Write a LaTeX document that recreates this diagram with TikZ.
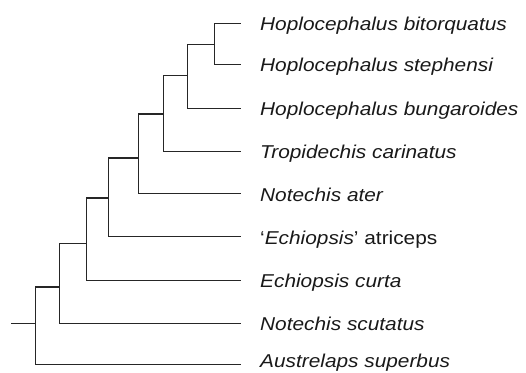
\documentclass[tikz,border=0pt]{standalone}
\usepackage{fontspec}
\setmainfont{Liberation Sans}[FakeStretch=1.12]
\begin{document}
\begin{tikzpicture}[x=1pt,y=-1pt,
  branch/.style={line width=1.25pt,draw=black!85,line cap=rect},
  taxon/.style={anchor=base west,inner sep=0pt,font=\fontsize{18.6}{20}\selectfont\itshape,text=black!90}]
\useasboundingbox (0,0) rectangle (526,372);
% leaf tips
\coordinate (bit) at (240,23.3);
\coordinate (ste) at (240,64.3);
\coordinate (bun) at (240,108.2);
\coordinate (tro) at (240,151.2);
\coordinate (ate) at (240,193.6);
\coordinate (atr) at (240,236.6);
\coordinate (cur) at (240,280.4);
\coordinate (scu) at (240,323.2);
\coordinate (sup) at (240,364.8);
% internal nodes
\coordinate (A) at (214.3,44.3);
\coordinate (B) at (187.5,75.3);
\coordinate (C) at (163.3,114);
\coordinate (D) at (138.3,158);
\coordinate (E) at (108.6,198);
\coordinate (F) at (86.3,243.3);
\coordinate (G) at (59.5,287);
\coordinate (R) at (35.7,323.2);
\coordinate (stub) at (11.7,323.2);
% labels
\node[taxon] (lbit) at (260,30.7) {Hoplocephalus bitorquatus};
\node[taxon] (lste) at (260,71.7) {Hoplocephalus stephensi};
\node[taxon] (lbun) at (260,115.6) {Hoplocephalus bungaroides};
\node[taxon] (ltro) at (260,158.6) {Tropidechis carinatus};
\node[taxon] (late) at (260,201) {Notechis ater};
\node[taxon,font=\fontsize{18.6}{20}\selectfont\upshape] (latr) at (260,244) {‘\textit{Echiopsis}’ atriceps};
\node[taxon] (lcur) at (260,287.8) {Echiopsis curta};
\node[taxon] (lscu) at (260,330.6) {Notechis scutatus};
\node[taxon] (lsup) at (260,367.7) {Austrelaps superbus};
% branches
\draw[branch] (A) |- (bit);
\draw[branch] (A) |- (ste);
\draw[branch] (B) |- (A);
\draw[branch] (B) |- (bun);
\draw[branch] (C) |- (B);
\draw[branch] (C) |- (tro);
\draw[branch] (D) |- (C);
\draw[branch] (D) |- (ate);
\draw[branch] (E) |- (D);
\draw[branch] (E) |- (atr);
\draw[branch] (F) |- (E);
\draw[branch] (F) |- (cur);
\draw[branch] (G) |- (F);
\draw[branch] (G) |- (scu);
\draw[branch] (R) |- (G);
\draw[branch] (R) |- (sup);
\draw[branch] (stub) -- (R);
\end{tikzpicture}
\end{document}
